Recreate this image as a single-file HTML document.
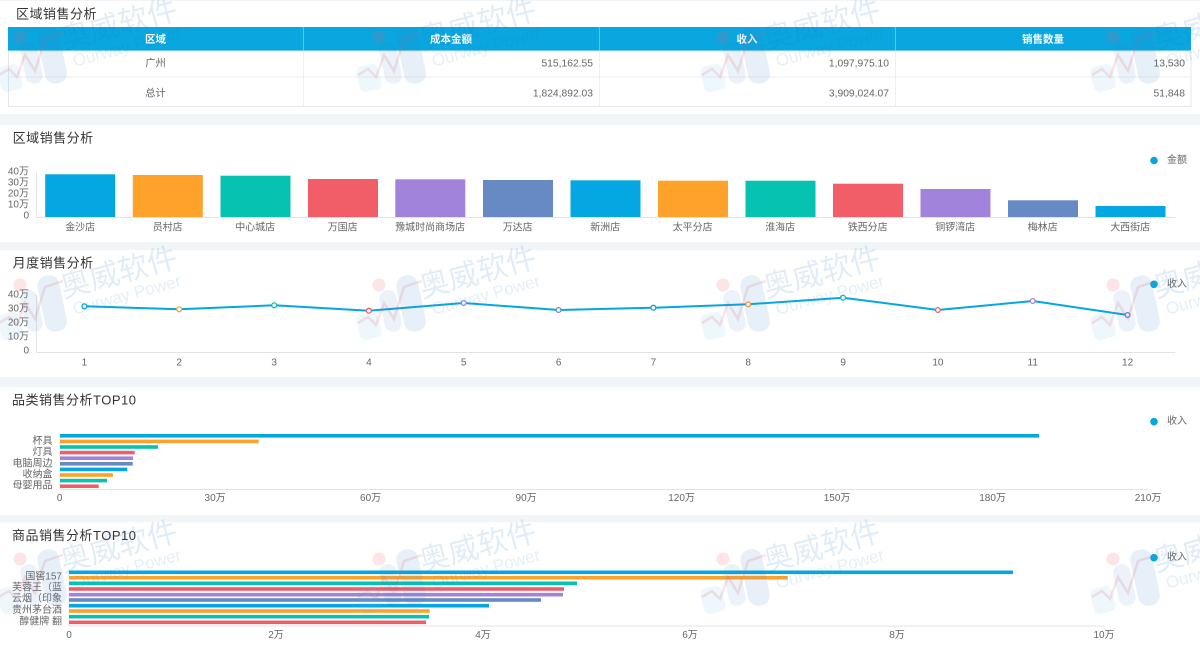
<!DOCTYPE html>
<html><head><meta charset="utf-8"><style>
html,body{margin:0;padding:0;background:#f2f5f8;}
svg{display:block;font-family:"Liberation Sans","Noto Sans CJK SC",sans-serif;}
.t{font-size:13px;fill:#333;letter-spacing:0.5px;}
.k{font-size:10px;fill:#666;}
.c{dominant-baseline:central;}
</style></head><body>
<svg width="1200" height="649" viewBox="0 0 1200 649" xmlns="http://www.w3.org/2000/svg">
<defs></defs>
<rect width="1200" height="649" fill="#f2f5f8"/>
<!-- panels -->
<rect x="0" y="1" width="1200" height="113" fill="#fff"/>
<rect x="0" y="125" width="1200" height="117" fill="#fff"/>
<rect x="0" y="250" width="1200" height="127" fill="#fff"/>
<rect x="0" y="387" width="1200" height="128" fill="#fff"/>
<rect x="0" y="522" width="1200" height="127" fill="#fff"/>

<!-- P1 table -->
<text class="t c" x="16" y="14">区域销售分析</text>
<rect x="8" y="27" width="1183" height="24" fill="#09a6df"/>
<g stroke="#62c2ea" stroke-width="1">
<line x1="303.5" y1="27" x2="303.5" y2="51"/><line x1="599.5" y1="27" x2="599.5" y2="51"/><line x1="895.5" y1="27" x2="895.5" y2="51"/>
</g>
<rect x="8.5" y="51" width="1182.5" height="55.5" fill="#fff" stroke="#e3e8ee"/>
<g stroke="#eceff3" stroke-width="1">
<line x1="8.5" y1="77" x2="1191" y2="77"/>
<line x1="303.5" y1="51" x2="303.5" y2="106.5"/><line x1="599.5" y1="51" x2="599.5" y2="106.5"/><line x1="895.5" y1="51" x2="895.5" y2="106.5"/>
</g>
<g font-size="10.5" font-weight="bold" fill="#fff" text-anchor="middle">
<text class="c" x="155.5" y="39.5">区域</text><text class="c" x="451" y="39.5">成本金额</text><text class="c" x="747" y="39.5">收入</text><text class="c" x="1043" y="39.5">销售数量</text>
</g>
<g font-size="10.3" fill="#666">
<text class="c" x="155.5" y="64" text-anchor="middle">广州</text>
<text class="c" x="593" y="64" text-anchor="end">515,162.55</text>
<text class="c" x="889" y="64" text-anchor="end">1,097,975.10</text>
<text class="c" x="1185" y="64" text-anchor="end">13,530</text>
<text class="c" x="155.5" y="94" text-anchor="middle">总计</text>
<text class="c" x="593" y="94" text-anchor="end">1,824,892.03</text>
<text class="c" x="889" y="94" text-anchor="end">3,909,024.07</text>
<text class="c" x="1185" y="94" text-anchor="end">51,848</text>
</g>

<!-- P2 bar chart -->
<text class="t c" x="12.6" y="138">区域销售分析</text>
<circle cx="1154" cy="160.5" r="3.8" fill="#05a7e2"/>
<text class="k c" x="1167" y="160.5">金额</text>
<line x1="36.5" y1="172" x2="36.5" y2="217" stroke="#e3e7ec"/>
<g class="k" text-anchor="end">
<text class="c" x="29" y="172">40万</text><text class="c" x="29" y="183">30万</text><text class="c" x="29" y="194">20万</text><text class="c" x="29" y="205">10万</text><text class="c" x="29" y="216">0</text>
</g>
<rect x="45.2" y="174.3" width="70" height="42.7" fill="#05a7e2"/>
<rect x="132.8" y="175" width="70" height="42" fill="#ffa22b"/>
<rect x="220.5" y="175.7" width="70" height="41.3" fill="#06c2b0"/>
<rect x="308" y="179" width="70" height="38" fill="#f25e67"/>
<rect x="395.3" y="179.3" width="70" height="37.7" fill="#a283dc"/>
<rect x="483" y="180" width="70" height="37" fill="#6789c4"/>
<rect x="570.5" y="180.3" width="70" height="36.7" fill="#05a7e2"/>
<rect x="658" y="180.7" width="70" height="36.3" fill="#ffa22b"/>
<rect x="745.5" y="180.7" width="70" height="36.3" fill="#06c2b0"/>
<rect x="833" y="183.7" width="70" height="33.3" fill="#f25e67"/>
<rect x="920.5" y="189" width="70" height="28" fill="#a283dc"/>
<rect x="1008" y="200.3" width="70" height="16.7" fill="#6789c4"/>
<rect x="1095.5" y="206" width="70" height="11" fill="#05a7e2"/>
<line x1="36" y1="217.5" x2="1175" y2="217.5" stroke="#e0e3e8"/>
<g class="k" text-anchor="middle">
<text class="c" x="80.2" y="228">金沙店</text><text class="c" x="167.7" y="228">员村店</text><text class="c" x="255.2" y="228">中心城店</text><text class="c" x="342.7" y="228">万国店</text><text class="c" x="430.2" y="228">豫城时尚商场店</text><text class="c" x="517.7" y="228">万达店</text><text class="c" x="605.2" y="228">新洲店</text><text class="c" x="692.7" y="228">太平分店</text><text class="c" x="780.2" y="228">淮海店</text><text class="c" x="867.7" y="228">铁西分店</text><text class="c" x="955.2" y="228">铜锣湾店</text><text class="c" x="1042.7" y="228">梅林店</text><text class="c" x="1130.2" y="228">大西街店</text>
</g>

<!-- P3 line chart -->
<text class="t c" x="12.6" y="263">月度销售分析</text>
<circle cx="1154" cy="284.3" r="3.8" fill="#05a7e2"/>
<text class="k c" x="1167" y="284.3">收入</text>
<line x1="36.5" y1="295" x2="36.5" y2="352" stroke="#e3e7ec"/>
<g class="k" text-anchor="end">
<text class="c" x="29" y="295">40万</text><text class="c" x="29" y="309">30万</text><text class="c" x="29" y="323">20万</text><text class="c" x="29" y="337">10万</text><text class="c" x="29" y="351">0</text>
</g>
<line x1="36.5" y1="352.5" x2="1175" y2="352.5" stroke="#e0e3e8"/>
<polyline fill="none" stroke="#05a7e2" stroke-width="2" stroke-linejoin="round" points="84.4,306.3 179.2,309.3 274.1,305.3 368.9,310.7 463.7,303 558.6,310 653.4,307.7 748.2,304.3 843.1,297.7 937.9,310 1032.7,301 1127.6,315"/>
<g fill="#fff" stroke-width="1.3">
<circle cx="84.4" cy="306.3" r="2.4" stroke="#05a7e2"/>
<circle cx="179.2" cy="309.3" r="2.4" stroke="#ffa22b"/>
<circle cx="274.1" cy="305.3" r="2.4" stroke="#06c2b0"/>
<circle cx="368.9" cy="310.7" r="2.4" stroke="#f25e67"/>
<circle cx="463.7" cy="303" r="2.4" stroke="#a283dc"/>
<circle cx="558.6" cy="310" r="2.4" stroke="#6789c4"/>
<circle cx="653.4" cy="307.7" r="2.4" stroke="#05a7e2"/>
<circle cx="748.2" cy="304.3" r="2.4" stroke="#ffa22b"/>
<circle cx="843.1" cy="297.7" r="2.4" stroke="#06c2b0"/>
<circle cx="937.9" cy="310" r="2.4" stroke="#f25e67"/>
<circle cx="1032.7" cy="301" r="2.4" stroke="#a283dc"/>
<circle cx="1127.6" cy="315" r="2.4" stroke="#6789c4"/>
</g>
<g class="k" text-anchor="middle">
<text class="c" x="84.4" y="363">1</text><text class="c" x="179.2" y="363">2</text><text class="c" x="274.1" y="363">3</text><text class="c" x="368.9" y="363">4</text><text class="c" x="463.7" y="363">5</text><text class="c" x="558.6" y="363">6</text><text class="c" x="653.4" y="363">7</text><text class="c" x="748.2" y="363">8</text><text class="c" x="843.1" y="363">9</text><text class="c" x="937.9" y="363">10</text><text class="c" x="1032.7" y="363">11</text><text class="c" x="1127.6" y="363">12</text>
</g>

<!-- P4 category bars -->
<text class="t c" x="12" y="400">品类销售分析TOP10</text>
<circle cx="1154" cy="421.7" r="3.8" fill="#05a7e2"/>
<text class="k c" x="1167" y="421.7">收入</text>
<line x1="60" y1="433" x2="60" y2="489" stroke="#e3e7ec"/>
<rect x="60" y="434" width="979" height="3.6" fill="#05a7e2"/>
<rect x="60" y="439.6" width="198.7" height="3.6" fill="#ffa22b"/>
<rect x="60" y="445.2" width="98" height="3.6" fill="#06c2b0"/>
<rect x="60" y="450.8" width="74.7" height="3.6" fill="#f25e67"/>
<rect x="60" y="456.4" width="73" height="3.6" fill="#a283dc"/>
<rect x="60" y="462" width="72.7" height="3.6" fill="#6789c4"/>
<rect x="60" y="467.6" width="67.3" height="3.6" fill="#05a7e2"/>
<rect x="60" y="473.2" width="53" height="3.6" fill="#ffa22b"/>
<rect x="60" y="478.8" width="47" height="3.6" fill="#06c2b0"/>
<rect x="60" y="484.4" width="38.7" height="3.6" fill="#f25e67"/>
<line x1="60" y1="489.5" x2="1148" y2="489.5" stroke="#e0e3e8"/>
<g class="k" text-anchor="end">
<text class="c" x="52.5" y="441.4">杯具</text><text class="c" x="52.5" y="452.6">灯具</text><text class="c" x="52.5" y="463.8">电脑周边</text><text class="c" x="52.5" y="475">收纳盒</text><text class="c" x="52.5" y="486.2">母婴用品</text>
</g>
<g class="k" text-anchor="middle">
<text class="c" x="59.6" y="498.3">0</text><text class="c" x="215.1" y="498.3">30万</text><text class="c" x="370.6" y="498.3">60万</text><text class="c" x="526.1" y="498.3">90万</text><text class="c" x="681.6" y="498.3">120万</text><text class="c" x="837.1" y="498.3">150万</text><text class="c" x="992.6" y="498.3">180万</text><text class="c" x="1148.1" y="498.3">210万</text>
</g>

<!-- P5 product bars -->
<text class="t c" x="12" y="535.7">商品销售分析TOP10</text>
<circle cx="1154" cy="557.7" r="3.8" fill="#05a7e2"/>
<text class="k c" x="1167" y="557.7">收入</text>
<line x1="69" y1="570" x2="69" y2="626" stroke="#e3e7ec"/>
<rect x="69" y="570.5" width="944" height="3.6" fill="#05a7e2"/>
<rect x="69" y="575.9" width="718.8" height="3.6" fill="#ffa22b"/>
<rect x="69" y="581.5" width="508" height="3.6" fill="#06c2b0"/>
<rect x="69" y="587.2" width="495" height="3.6" fill="#f25e67"/>
<rect x="69" y="592.9" width="494" height="3.6" fill="#a283dc"/>
<rect x="69" y="598.2" width="472" height="3.6" fill="#6789c4"/>
<rect x="69" y="603.9" width="420" height="3.6" fill="#05a7e2"/>
<rect x="69" y="609.2" width="360.6" height="3.6" fill="#ffa22b"/>
<rect x="69" y="614.9" width="360" height="3.6" fill="#06c2b0"/>
<rect x="69" y="620.5" width="357" height="3.6" fill="#f25e67"/>
<line x1="69" y1="626" x2="1104" y2="626" stroke="#e0e3e8"/>
<g class="k" text-anchor="end">
<text class="c" x="62" y="577">国窖157</text><text class="c" x="62" y="588">芙蓉王（蓝</text><text class="c" x="62" y="599">云烟（印象</text><text class="c" x="62" y="610.5">贵州茅台酒</text><text class="c" x="62" y="622">醇健牌 翻</text>
</g>
<g class="k" text-anchor="middle">
<text class="c" x="69" y="635.3">0</text><text class="c" x="276" y="635.3">2万</text><text class="c" x="483" y="635.3">4万</text><text class="c" x="690" y="635.3">6万</text><text class="c" x="897" y="635.3">8万</text><text class="c" x="1104" y="635.3">10万</text>
</g>

<!-- watermarks -->
<g>
<g transform="translate(-3,27)">
<polyline points="2,48 12,42 20,50 28,28 38,44 48,12 66,6" fill="none" stroke="rgba(240,90,100,0.17)" stroke-width="2.5"/>
<circle cx="23" cy="10" r="6.5" fill="rgba(240,90,100,0.16)"/>
<rect x="2" y="38" width="22" height="26" rx="6" transform="rotate(-15 13 51)" fill="rgba(90,180,230,0.11)"/>
<rect x="26" y="15" width="17" height="42" rx="8" transform="rotate(-12 34 36)" fill="rgba(60,130,200,0.1)"/>
<rect x="44" y="0" width="22" height="57" rx="10" transform="rotate(-12 55 28)" fill="rgba(60,130,200,0.12)"/>
<text x="122" y="-2" font-size="30" text-anchor="middle" dominant-baseline="central" fill="rgba(40,120,200,0.14)" transform="rotate(-15 122 -2)">奥威软件</text>
<text x="130" y="20" font-size="17" text-anchor="middle" dominant-baseline="central" fill="rgba(40,120,200,0.12)" transform="rotate(-15 130 20)">Ourway Power</text>
</g>
<g transform="translate(356,27)">
<polyline points="2,48 12,42 20,50 28,28 38,44 48,12 66,6" fill="none" stroke="rgba(240,90,100,0.17)" stroke-width="2.5"/>
<circle cx="23" cy="10" r="6.5" fill="rgba(240,90,100,0.16)"/>
<rect x="2" y="38" width="22" height="26" rx="6" transform="rotate(-15 13 51)" fill="rgba(90,180,230,0.11)"/>
<rect x="26" y="15" width="17" height="42" rx="8" transform="rotate(-12 34 36)" fill="rgba(60,130,200,0.1)"/>
<rect x="44" y="0" width="22" height="57" rx="10" transform="rotate(-12 55 28)" fill="rgba(60,130,200,0.12)"/>
<text x="122" y="-2" font-size="30" text-anchor="middle" dominant-baseline="central" fill="rgba(40,120,200,0.14)" transform="rotate(-15 122 -2)">奥威软件</text>
<text x="130" y="20" font-size="17" text-anchor="middle" dominant-baseline="central" fill="rgba(40,120,200,0.12)" transform="rotate(-15 130 20)">Ourway Power</text>
</g>
<g transform="translate(700,27)">
<polyline points="2,48 12,42 20,50 28,28 38,44 48,12 66,6" fill="none" stroke="rgba(240,90,100,0.17)" stroke-width="2.5"/>
<circle cx="23" cy="10" r="6.5" fill="rgba(240,90,100,0.16)"/>
<rect x="2" y="38" width="22" height="26" rx="6" transform="rotate(-15 13 51)" fill="rgba(90,180,230,0.11)"/>
<rect x="26" y="15" width="17" height="42" rx="8" transform="rotate(-12 34 36)" fill="rgba(60,130,200,0.1)"/>
<rect x="44" y="0" width="22" height="57" rx="10" transform="rotate(-12 55 28)" fill="rgba(60,130,200,0.12)"/>
<text x="122" y="-2" font-size="30" text-anchor="middle" dominant-baseline="central" fill="rgba(40,120,200,0.14)" transform="rotate(-15 122 -2)">奥威软件</text>
<text x="130" y="20" font-size="17" text-anchor="middle" dominant-baseline="central" fill="rgba(40,120,200,0.12)" transform="rotate(-15 130 20)">Ourway Power</text>
</g>
<g transform="translate(1090,27)">
<polyline points="2,48 12,42 20,50 28,28 38,44 48,12 66,6" fill="none" stroke="rgba(240,90,100,0.17)" stroke-width="2.5"/>
<circle cx="23" cy="10" r="6.5" fill="rgba(240,90,100,0.16)"/>
<rect x="2" y="38" width="22" height="26" rx="6" transform="rotate(-15 13 51)" fill="rgba(90,180,230,0.11)"/>
<rect x="26" y="15" width="17" height="42" rx="8" transform="rotate(-12 34 36)" fill="rgba(60,130,200,0.1)"/>
<rect x="44" y="0" width="22" height="57" rx="10" transform="rotate(-12 55 28)" fill="rgba(60,130,200,0.12)"/>
<text x="122" y="-2" font-size="30" text-anchor="middle" dominant-baseline="central" fill="rgba(40,120,200,0.14)" transform="rotate(-15 122 -2)">奥威软件</text>
<text x="130" y="20" font-size="17" text-anchor="middle" dominant-baseline="central" fill="rgba(40,120,200,0.12)" transform="rotate(-15 130 20)">Ourway Power</text>
</g>
<g transform="translate(-3,275)">
<polyline points="2,48 12,42 20,50 28,28 38,44 48,12 66,6" fill="none" stroke="rgba(240,90,100,0.17)" stroke-width="2.5"/>
<circle cx="23" cy="10" r="6.5" fill="rgba(240,90,100,0.16)"/>
<rect x="2" y="38" width="22" height="26" rx="6" transform="rotate(-15 13 51)" fill="rgba(90,180,230,0.11)"/>
<rect x="26" y="15" width="17" height="42" rx="8" transform="rotate(-12 34 36)" fill="rgba(60,130,200,0.1)"/>
<rect x="44" y="0" width="22" height="57" rx="10" transform="rotate(-12 55 28)" fill="rgba(60,130,200,0.12)"/>
<text x="122" y="-2" font-size="30" text-anchor="middle" dominant-baseline="central" fill="rgba(40,120,200,0.14)" transform="rotate(-15 122 -2)">奥威软件</text>
<text x="130" y="20" font-size="17" text-anchor="middle" dominant-baseline="central" fill="rgba(40,120,200,0.12)" transform="rotate(-15 130 20)">Ourway Power</text>
</g>
<g transform="translate(356,275)">
<polyline points="2,48 12,42 20,50 28,28 38,44 48,12 66,6" fill="none" stroke="rgba(240,90,100,0.17)" stroke-width="2.5"/>
<circle cx="23" cy="10" r="6.5" fill="rgba(240,90,100,0.16)"/>
<rect x="2" y="38" width="22" height="26" rx="6" transform="rotate(-15 13 51)" fill="rgba(90,180,230,0.11)"/>
<rect x="26" y="15" width="17" height="42" rx="8" transform="rotate(-12 34 36)" fill="rgba(60,130,200,0.1)"/>
<rect x="44" y="0" width="22" height="57" rx="10" transform="rotate(-12 55 28)" fill="rgba(60,130,200,0.12)"/>
<text x="122" y="-2" font-size="30" text-anchor="middle" dominant-baseline="central" fill="rgba(40,120,200,0.14)" transform="rotate(-15 122 -2)">奥威软件</text>
<text x="130" y="20" font-size="17" text-anchor="middle" dominant-baseline="central" fill="rgba(40,120,200,0.12)" transform="rotate(-15 130 20)">Ourway Power</text>
</g>
<g transform="translate(700,275)">
<polyline points="2,48 12,42 20,50 28,28 38,44 48,12 66,6" fill="none" stroke="rgba(240,90,100,0.17)" stroke-width="2.5"/>
<circle cx="23" cy="10" r="6.5" fill="rgba(240,90,100,0.16)"/>
<rect x="2" y="38" width="22" height="26" rx="6" transform="rotate(-15 13 51)" fill="rgba(90,180,230,0.11)"/>
<rect x="26" y="15" width="17" height="42" rx="8" transform="rotate(-12 34 36)" fill="rgba(60,130,200,0.1)"/>
<rect x="44" y="0" width="22" height="57" rx="10" transform="rotate(-12 55 28)" fill="rgba(60,130,200,0.12)"/>
<text x="122" y="-2" font-size="30" text-anchor="middle" dominant-baseline="central" fill="rgba(40,120,200,0.14)" transform="rotate(-15 122 -2)">奥威软件</text>
<text x="130" y="20" font-size="17" text-anchor="middle" dominant-baseline="central" fill="rgba(40,120,200,0.12)" transform="rotate(-15 130 20)">Ourway Power</text>
</g>
<g transform="translate(1090,275)">
<polyline points="2,48 12,42 20,50 28,28 38,44 48,12 66,6" fill="none" stroke="rgba(240,90,100,0.17)" stroke-width="2.5"/>
<circle cx="23" cy="10" r="6.5" fill="rgba(240,90,100,0.16)"/>
<rect x="2" y="38" width="22" height="26" rx="6" transform="rotate(-15 13 51)" fill="rgba(90,180,230,0.11)"/>
<rect x="26" y="15" width="17" height="42" rx="8" transform="rotate(-12 34 36)" fill="rgba(60,130,200,0.1)"/>
<rect x="44" y="0" width="22" height="57" rx="10" transform="rotate(-12 55 28)" fill="rgba(60,130,200,0.12)"/>
<text x="122" y="-2" font-size="30" text-anchor="middle" dominant-baseline="central" fill="rgba(40,120,200,0.14)" transform="rotate(-15 122 -2)">奥威软件</text>
<text x="130" y="20" font-size="17" text-anchor="middle" dominant-baseline="central" fill="rgba(40,120,200,0.12)" transform="rotate(-15 130 20)">Ourway Power</text>
</g>
<g transform="translate(-3,549)">
<polyline points="2,48 12,42 20,50 28,28 38,44 48,12 66,6" fill="none" stroke="rgba(240,90,100,0.17)" stroke-width="2.5"/>
<circle cx="23" cy="10" r="6.5" fill="rgba(240,90,100,0.16)"/>
<rect x="2" y="38" width="22" height="26" rx="6" transform="rotate(-15 13 51)" fill="rgba(90,180,230,0.11)"/>
<rect x="26" y="15" width="17" height="42" rx="8" transform="rotate(-12 34 36)" fill="rgba(60,130,200,0.1)"/>
<rect x="44" y="0" width="22" height="57" rx="10" transform="rotate(-12 55 28)" fill="rgba(60,130,200,0.12)"/>
<text x="122" y="-2" font-size="30" text-anchor="middle" dominant-baseline="central" fill="rgba(40,120,200,0.14)" transform="rotate(-15 122 -2)">奥威软件</text>
<text x="130" y="20" font-size="17" text-anchor="middle" dominant-baseline="central" fill="rgba(40,120,200,0.12)" transform="rotate(-15 130 20)">Ourway Power</text>
</g>
<g transform="translate(356,549)">
<polyline points="2,48 12,42 20,50 28,28 38,44 48,12 66,6" fill="none" stroke="rgba(240,90,100,0.17)" stroke-width="2.5"/>
<circle cx="23" cy="10" r="6.5" fill="rgba(240,90,100,0.16)"/>
<rect x="2" y="38" width="22" height="26" rx="6" transform="rotate(-15 13 51)" fill="rgba(90,180,230,0.11)"/>
<rect x="26" y="15" width="17" height="42" rx="8" transform="rotate(-12 34 36)" fill="rgba(60,130,200,0.1)"/>
<rect x="44" y="0" width="22" height="57" rx="10" transform="rotate(-12 55 28)" fill="rgba(60,130,200,0.12)"/>
<text x="122" y="-2" font-size="30" text-anchor="middle" dominant-baseline="central" fill="rgba(40,120,200,0.14)" transform="rotate(-15 122 -2)">奥威软件</text>
<text x="130" y="20" font-size="17" text-anchor="middle" dominant-baseline="central" fill="rgba(40,120,200,0.12)" transform="rotate(-15 130 20)">Ourway Power</text>
</g>
<g transform="translate(700,549)">
<polyline points="2,48 12,42 20,50 28,28 38,44 48,12 66,6" fill="none" stroke="rgba(240,90,100,0.17)" stroke-width="2.5"/>
<circle cx="23" cy="10" r="6.5" fill="rgba(240,90,100,0.16)"/>
<rect x="2" y="38" width="22" height="26" rx="6" transform="rotate(-15 13 51)" fill="rgba(90,180,230,0.11)"/>
<rect x="26" y="15" width="17" height="42" rx="8" transform="rotate(-12 34 36)" fill="rgba(60,130,200,0.1)"/>
<rect x="44" y="0" width="22" height="57" rx="10" transform="rotate(-12 55 28)" fill="rgba(60,130,200,0.12)"/>
<text x="122" y="-2" font-size="30" text-anchor="middle" dominant-baseline="central" fill="rgba(40,120,200,0.14)" transform="rotate(-15 122 -2)">奥威软件</text>
<text x="130" y="20" font-size="17" text-anchor="middle" dominant-baseline="central" fill="rgba(40,120,200,0.12)" transform="rotate(-15 130 20)">Ourway Power</text>
</g>
<g transform="translate(1090,549)">
<polyline points="2,48 12,42 20,50 28,28 38,44 48,12 66,6" fill="none" stroke="rgba(240,90,100,0.17)" stroke-width="2.5"/>
<circle cx="23" cy="10" r="6.5" fill="rgba(240,90,100,0.16)"/>
<rect x="2" y="38" width="22" height="26" rx="6" transform="rotate(-15 13 51)" fill="rgba(90,180,230,0.11)"/>
<rect x="26" y="15" width="17" height="42" rx="8" transform="rotate(-12 34 36)" fill="rgba(60,130,200,0.1)"/>
<rect x="44" y="0" width="22" height="57" rx="10" transform="rotate(-12 55 28)" fill="rgba(60,130,200,0.12)"/>
<text x="122" y="-2" font-size="30" text-anchor="middle" dominant-baseline="central" fill="rgba(40,120,200,0.14)" transform="rotate(-15 122 -2)">奥威软件</text>
<text x="130" y="20" font-size="17" text-anchor="middle" dominant-baseline="central" fill="rgba(40,120,200,0.12)" transform="rotate(-15 130 20)">Ourway Power</text>
</g>
</g>
</svg>
</body></html>
